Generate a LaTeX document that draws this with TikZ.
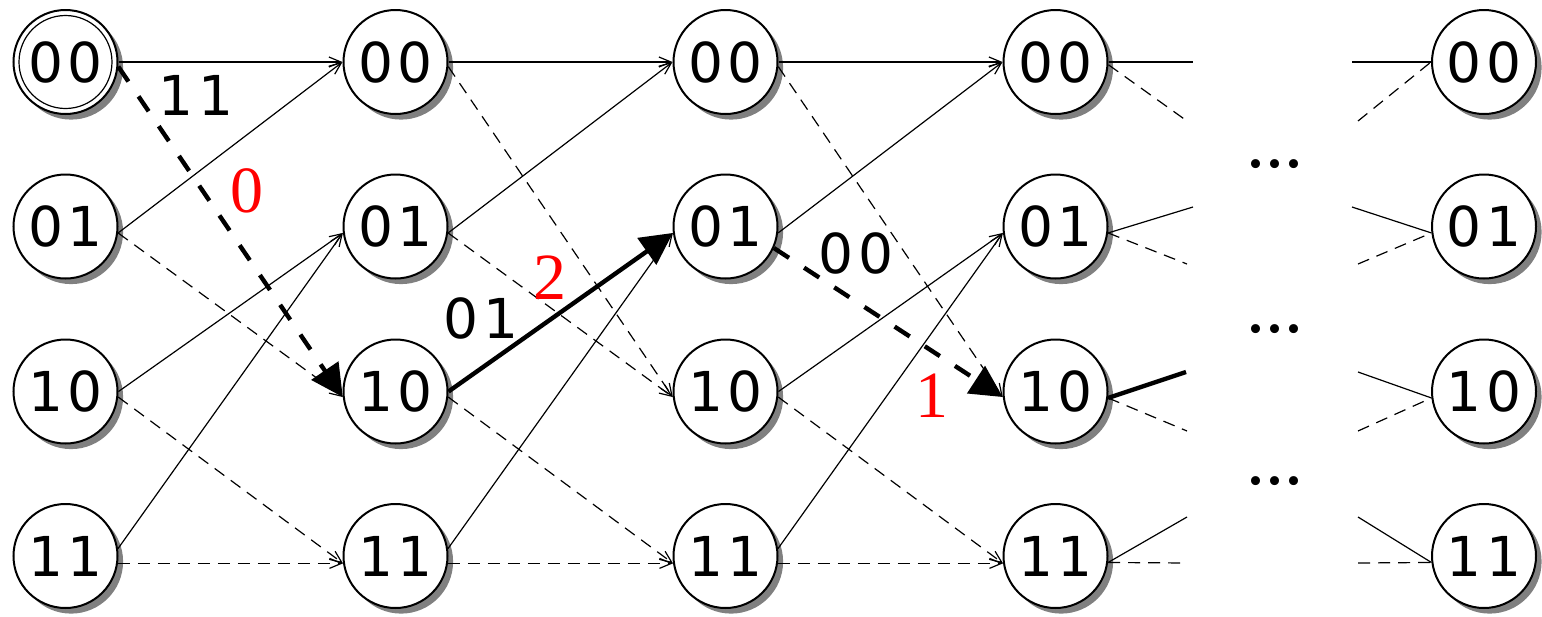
\documentclass[tikz,border=0pt]{standalone}
\usepackage{fontspec}
\setmainfont{DejaVu Sans}
\newfontfamily\redfont{Liberation Serif}
\newfontfamily\dotfont{Liberation Serif}
\usetikzlibrary{arrows.meta,shadows}
\newcommand\pp[2]{#1\kern2.5pt#2}
\begin{document}
\begin{tikzpicture}[x=0.5pt,y=-0.5pt,
  st/.style={circle, draw, line width=1pt, fill=white, minimum size=52pt, inner sep=0pt,
    font=\fontsize{27.5}{30}\selectfont,
    drop shadow={shadow xshift=2.8pt,shadow yshift=-2.8pt,fill=black!50,opacity=1}},
  sol/.style={line width=0.6pt, -{Straight Barb[length=6pt,width=5pt]}},
  das/.style={sol, dash pattern=on 6pt off 4pt},
  hsol/.style={line width=2.2pt, -{Triangle[length=16pt,width=16pt]}},
  hdas/.style={hsol, dash pattern=on 9pt off 9pt},
  stub/.style={line width=0.6pt},
  dstub/.style={stub, dash pattern=on 6pt off 4pt},
  hstub/.style={line width=2.2pt},
  lab/.style={inner sep=0pt, font=\fontsize{27.5}{30}\selectfont},
  rlab/.style={inner sep=0pt, text=red, font=\redfont\fontsize{33}{36}\selectfont},
  dts/.style={inner sep=0pt, font=\dotfont\fontsize{38}{40}\selectfont},
]
\useasboundingbox (0,0) rectangle (1542,616);

% nodes
\foreach \c/\x in {0/65.5,1/395.5,2/725.5,3/1055.5,4/1484}{
  \foreach \r/\y/\a/\b in {0/62/0/0,1/226.5/0/1,2/391.5/1/0,3/556/1/1}{
    \node[st] (n\c\r) at (\x,\y) {\pp\a\b};
  }
}
\draw[line width=0.6pt] (n00.center) circle[radius=23.25pt];

% regular trellis edges
\foreach \c/\d in {0/1,1/2,2/3}{
  \draw[sol] (n\c0.0) -- (n\d0.180);
  \draw[sol] (n\c1.-7) -- (n\d0.180);
  \draw[sol] (n\c3.8) -- (n\d1.187);
  \draw[das] (n\c2.-6) -- (n\d3.188);
  \draw[das] (n\c3.-8) -- (n\d3.188);
}
% column 0 -> 1
\draw[sol] (n02.0) -- (n11.187);
\draw[das] (n01.-7) -- (n12.186);
\draw[hdas] (n00.-5) -- (n12.186);
% column 1 -> 2
\draw[hsol] (n12.0) -- (n21.187);
\draw[das] (n10.-5) -- (n22.186);
\draw[das] (n11.-7) -- (n22.186);
% column 2 -> 3
\draw[sol] (n22.0) -- (n31.187);
\draw[das] (n20.-5) -- (n32.186);
\draw[hdas] (n21.-24) -- (n32.186);

% stubs leaving column 3
\coordinate (s00) at (1193,62);
\coordinate (s01) at (1187,121);
\coordinate (s10) at (1193,207);
\coordinate (s11) at (1187,264);
\coordinate (s20) at (1186,372);
\coordinate (s21) at (1187,431);
\coordinate (s30) at (1187,517);
\coordinate (s31) at (1187,563);
\draw[stub] (n30.0) -- (s00);
\draw[dstub] (n30.-3) -- (s01);
\draw[stub] (n31.-7) -- (s10);
\draw[dstub] (n31.-7) -- (s11);
\draw[hstub] (n32.-7) -- (s20);
\draw[dstub] (n32.-7) -- (s21);
\draw[stub] (n33.-7) -- (s30);
\draw[dstub] (n33.-7) -- (s31);

% stubs entering column 4
\coordinate (t00) at (1352,62);
\coordinate (t01) at (1358,121);
\coordinate (t10) at (1352,207);
\coordinate (t11) at (1358,264);
\coordinate (t20) at (1358,372);
\coordinate (t21) at (1358,431);
\coordinate (t30) at (1358,517);
\coordinate (t31) at (1358,563);
\draw[stub] (t00) -- (n40.180);
\draw[dstub] (t01) -- (n40.180);
\draw[stub] (t10) -- (n41.187);
\draw[dstub] (t11) -- (n41.187);
\draw[stub] (t20) -- (n42.187);
\draw[dstub] (t21) -- (n42.187);
\draw[stub] (t30) -- (n43.187);
\draw[dstub] (t31) -- (n43.187);

% labels
\node[lab] (l11) at (196,95) {\pp11};
\node[rlab] (r0) at (247,191) {0};
\node[lab] (l01) at (481,318) {\pp01};
\node[rlab] (r2) at (550,278) {2};
\node[lab] (l00) at (856,253) {\pp00};
\node[rlab] (r1) at (932,396) {1};

% dots
\node[dts] (d1) at (1275,164) {...};
\node[dts] (d2) at (1275,329) {...};
\node[dts] (d3) at (1275,481) {...};
\end{tikzpicture}
\end{document}
